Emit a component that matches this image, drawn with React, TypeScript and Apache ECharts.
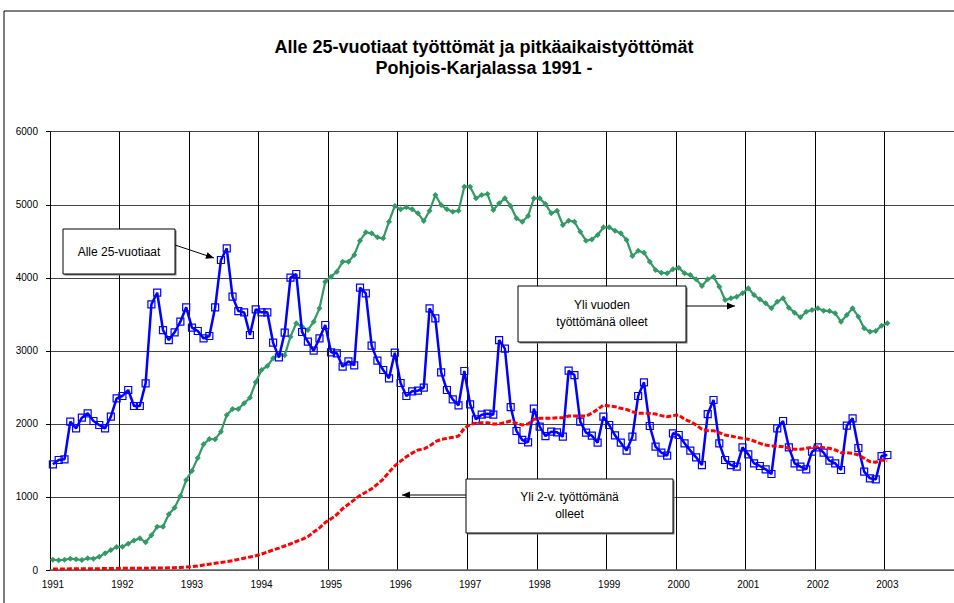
import React, { useEffect, useRef } from "react";
import * as echarts from "echarts";

const years = ["1991", "1992", "1993", "1994", "1995", "1996", "1997", "1998", "1999", "2000", "2001", "2002", "2003"];
const months = ["01", "02", "03", "04", "05", "06", "07", "08", "09", "10", "11", "12"];

// Alle 25-vuotiaat (Jan 1991 - Jan 2003)
const under25 = [
  1446, 1506, 1515, 2031, 1939, 2085, 2145, 2040, 1985, 1939, 2099, 2350,
  2382, 2464, 2245, 2245, 2555, 3637, 3796, 3285, 3148, 3253, 3399, 3596,
  3317, 3272, 3171, 3203, 3596, 4244, 4403, 3742, 3545, 3527, 3217, 3568,
  3527, 3527, 3112, 2911, 3249, 4002, 4052, 3258, 3126, 3002, 3171, 3354,
  2980, 2966, 2783, 2856, 2802, 3865, 3787, 3071, 2866, 2738, 2624, 2975,
  2560, 2382, 2446, 2455, 2496, 3582, 3445, 2706, 2464, 2336, 2254, 2724,
  2268, 2062, 2126, 2140, 2126, 3148, 3030, 2231, 1903, 1780, 1748, 2208,
  1962, 1834, 1894, 1885, 1825, 2729, 2669, 2031, 1880, 1839, 1743, 2099,
  1985, 1843, 1743, 1634, 1825, 2382, 2569, 1971, 1688, 1606, 1565, 1871,
  1848, 1734, 1634, 1542, 1437, 2135, 2327, 1734, 1506, 1437, 1415, 1679,
  1583, 1460, 1424, 1378, 1314, 1939, 2040, 1679, 1460, 1415, 1378, 1620,
  1679, 1606, 1497, 1460, 1369, 1976, 2076, 1670, 1346, 1255, 1241, 1560,
  1574,
];

// Yli vuoden työttömänä olleet
const over1y = [
  140, 135, 140, 155, 146, 137, 160, 155, 183, 228, 274, 315,
  319, 360, 405, 433, 381, 475, 593, 593, 762, 853, 1013, 1232,
  1360, 1533, 1720, 1793, 1789, 1894, 2122, 2204, 2204, 2282, 2359, 2569,
  2738, 2793, 2898, 2939, 2939, 3194, 3377, 3331, 3285, 3399, 3582, 3947,
  4015, 4084, 4221, 4221, 4312, 4508, 4622, 4609, 4554, 4540, 4768, 4983,
  4937, 4965, 4937, 4882, 4777, 4919, 5133, 4996, 4937, 4905, 4919, 5247,
  5247, 5088, 5133, 5147, 4928, 5019, 5088, 4983, 4814, 4768, 4846, 5088,
  5088, 5010, 4882, 4919, 4723, 4782, 4768, 4631, 4508, 4526, 4586, 4691,
  4691, 4645, 4609, 4517, 4298, 4371, 4344, 4221, 4107, 4070, 4061, 4116,
  4139, 4061, 4038, 3979, 3888, 3979, 4015, 3879, 3696, 3719, 3742, 3787,
  3856, 3764, 3705, 3650, 3582, 3673, 3719, 3591, 3523, 3459, 3536, 3559,
  3582, 3550, 3545, 3514, 3399, 3491, 3582, 3468, 3308, 3263, 3272, 3345,
  3377,
];

// Yli 2-v. työttömänä olleet
const over2y = [
  14, 14, 14, 16, 16, 18, 18, 18, 18, 20, 20, 22,
  23, 23, 24, 25, 25, 26, 27, 28, 30, 32, 35, 40,
  46, 55, 68, 80, 92, 102, 114, 128, 145, 162, 178, 195,
  219, 245, 275, 300, 329, 358, 390, 420, 456, 520, 575, 650,
  700, 760, 840, 900, 960, 1020, 1065, 1110, 1175, 1245, 1340, 1425,
  1490, 1550, 1600, 1643, 1656, 1697, 1757, 1789, 1802, 1816, 1834, 1939,
  1994, 2008, 2017, 2017, 1999, 1999, 2017, 2040, 2008, 1985, 1999, 2063,
  2076, 2076, 2076, 2085, 2085, 2108, 2108, 2108, 2108, 2145, 2199, 2259,
  2245, 2236, 2213, 2199, 2167, 2145, 2145, 2145, 2135, 2113, 2099, 2113,
  2122, 2063, 2031, 1985, 1926, 1907, 1907, 1880, 1848, 1834, 1816, 1802,
  1789, 1766, 1734, 1711, 1697, 1697, 1688, 1666, 1652, 1652, 1666, 1679,
  1688, 1675, 1666, 1643, 1606, 1606, 1597, 1574, 1529, 1483, 1474, 1506,
  1497,
];

const categories: string[] = [];
years.forEach((y) => months.forEach((m) => categories.push(y + "-" + m)));

const FONT = "'Liberation Sans', Arial, sans-serif";

function arrowHead(x1: number, y1: number, x2: number, y2: number, len = 8, half = 3.5) {
  const dx = x2 - x1;
  const dy = y2 - y1;
  const d = Math.sqrt(dx * dx + dy * dy);
  const ux = dx / d;
  const uy = dy / d;
  const bx = x2 - ux * len;
  const by = y2 - uy * len;
  return [
    [x2, y2],
    [bx - uy * half, by + ux * half],
    [bx + uy * half, by - ux * half],
  ];
}

function arrow(x1: number, y1: number, x2: number, y2: number) {
  return [
    { type: "line", z: 100, shape: { x1, y1, x2, y2 }, style: { stroke: "#000", lineWidth: 1 } },
    { type: "polygon", z: 100, shape: { points: arrowHead(x1, y1, x2, y2) }, style: { fill: "#000" } },
  ];
}

function box(x: number, y: number, w: number, h: number, lines: string[], lineY: number[]) {
  const els: any[] = [
    { type: "rect", z: 99, shape: { x: x + 1.5, y: y + 1.5, width: w, height: h }, style: { fill: "#777" } },
    { type: "rect", z: 100, shape: { x, y, width: w, height: h }, style: { fill: "#fff", stroke: "#000", lineWidth: 1 } },
  ];
  lines.forEach((t, i) => {
    els.push({
      type: "text",
      z: 101,
      x: x + w / 2,
      y: lineY[i],
      style: { text: t, fill: "#000", font: "12px " + FONT, textAlign: "center", textVerticalAlign: "middle" },
    });
  });
  return els;
}

export default function App() {
  const ref = useRef<HTMLDivElement>(null);
  useEffect(() => {
    if (!ref.current) return;
    const chart = echarts.init(ref.current, undefined, { renderer: "svg" });
    chart.setOption({
      animation: false,
      backgroundColor: "#fff",
      title: {
        text: "Alle 25-vuotiaat työttömät ja pitkäaikaistyöttömät\nPohjois-Karjalassa 1991 -",
        left: 479,
        textAlign: "center",
        top: 31,
        textStyle: { fontFamily: FONT, fontSize: 18, fontWeight: "bold", color: "#000", lineHeight: 21 },
      },
      grid: { left: 50, right: -3, top: 131.7, bottom: 33, containLabel: false },
      xAxis: {
        type: "category",
        data: categories,
        boundaryGap: true,
        axisLine: { lineStyle: { color: "#666", width: 1.5 } },
        axisTick: { interval: 11, length: 4, lineStyle: { color: "#000" } },
        axisLabel: {
          interval: 11,
          margin: 9,
          fontFamily: FONT,
          fontSize: 10,
          color: "#000",
          formatter: (v: string) => (v.endsWith("-01") ? v.slice(0, 4) : ""),
        },
        splitLine: { show: true, interval: 11, lineStyle: { color: "#000", width: 1 } },
      },
      yAxis: {
        type: "value",
        min: 0,
        max: 6000,
        interval: 1000,
        axisLine: { show: true, lineStyle: { color: "#000", width: 1 } },
        axisTick: { show: true, length: 4, lineStyle: { color: "#000" } },
        axisLabel: { margin: 12, fontFamily: FONT, fontSize: 10, color: "#000", formatter: (v: number) => String(v) },
        splitLine: { show: true, lineStyle: { color: "#444", width: 1 } },
      },
      series: [
        {
          name: "Yli vuoden työttömänä olleet",
          type: "line",
          data: over1y,
          symbol: "diamond",
          symbolSize: 6,
          showAllSymbol: true,
          lineStyle: { color: "#339966", width: 2.2 },
          itemStyle: { color: "#339966" },
          z: 2,
        },
        {
          name: "Alle 25-vuotiaat",
          type: "line",
          data: under25,
          symbol: "rect",
          symbolSize: 7,
          showAllSymbol: true,
          lineStyle: { color: "#0000ff", width: 2.5 },
          itemStyle: { color: "rgba(255,255,255,0)", borderColor: "#0000ff", borderWidth: 1.2 },
          z: 3,
        },
        {
          name: "Yli 2-v. työttömänä olleet",
          type: "line",
          data: over2y,
          symbol: "none",
          lineStyle: { color: "#ff0000", width: 3, type: [5, 2] },
          z: 4,
        },
      ],
      graphic: [
        { type: "rect", z: 0, shape: { x: 4, y: 11, width: 1000, height: 700 }, style: { fill: "none", stroke: "#000", lineWidth: 1 } },
        ...box(63, 229, 112, 45, ["Alle 25-vuotiaat"], [252]),
        ...arrow(175, 245, 214, 258),
        ...box(518, 286, 168, 56, ["Yli vuoden", "työttömänä olleet"], [305, 322]),
        ...arrow(686, 306, 735, 306),
        ...box(466, 479, 207, 54, ["Yli 2-v. työttömänä", "olleet"], [497, 514]),
        ...arrow(466, 495, 402, 495),
      ],
    });
    return () => chart.dispose();
  }, []);
  return <div ref={ref} style={{ position: "absolute", left: 0, top: 0, width: 954, height: 603 }} />;
}
